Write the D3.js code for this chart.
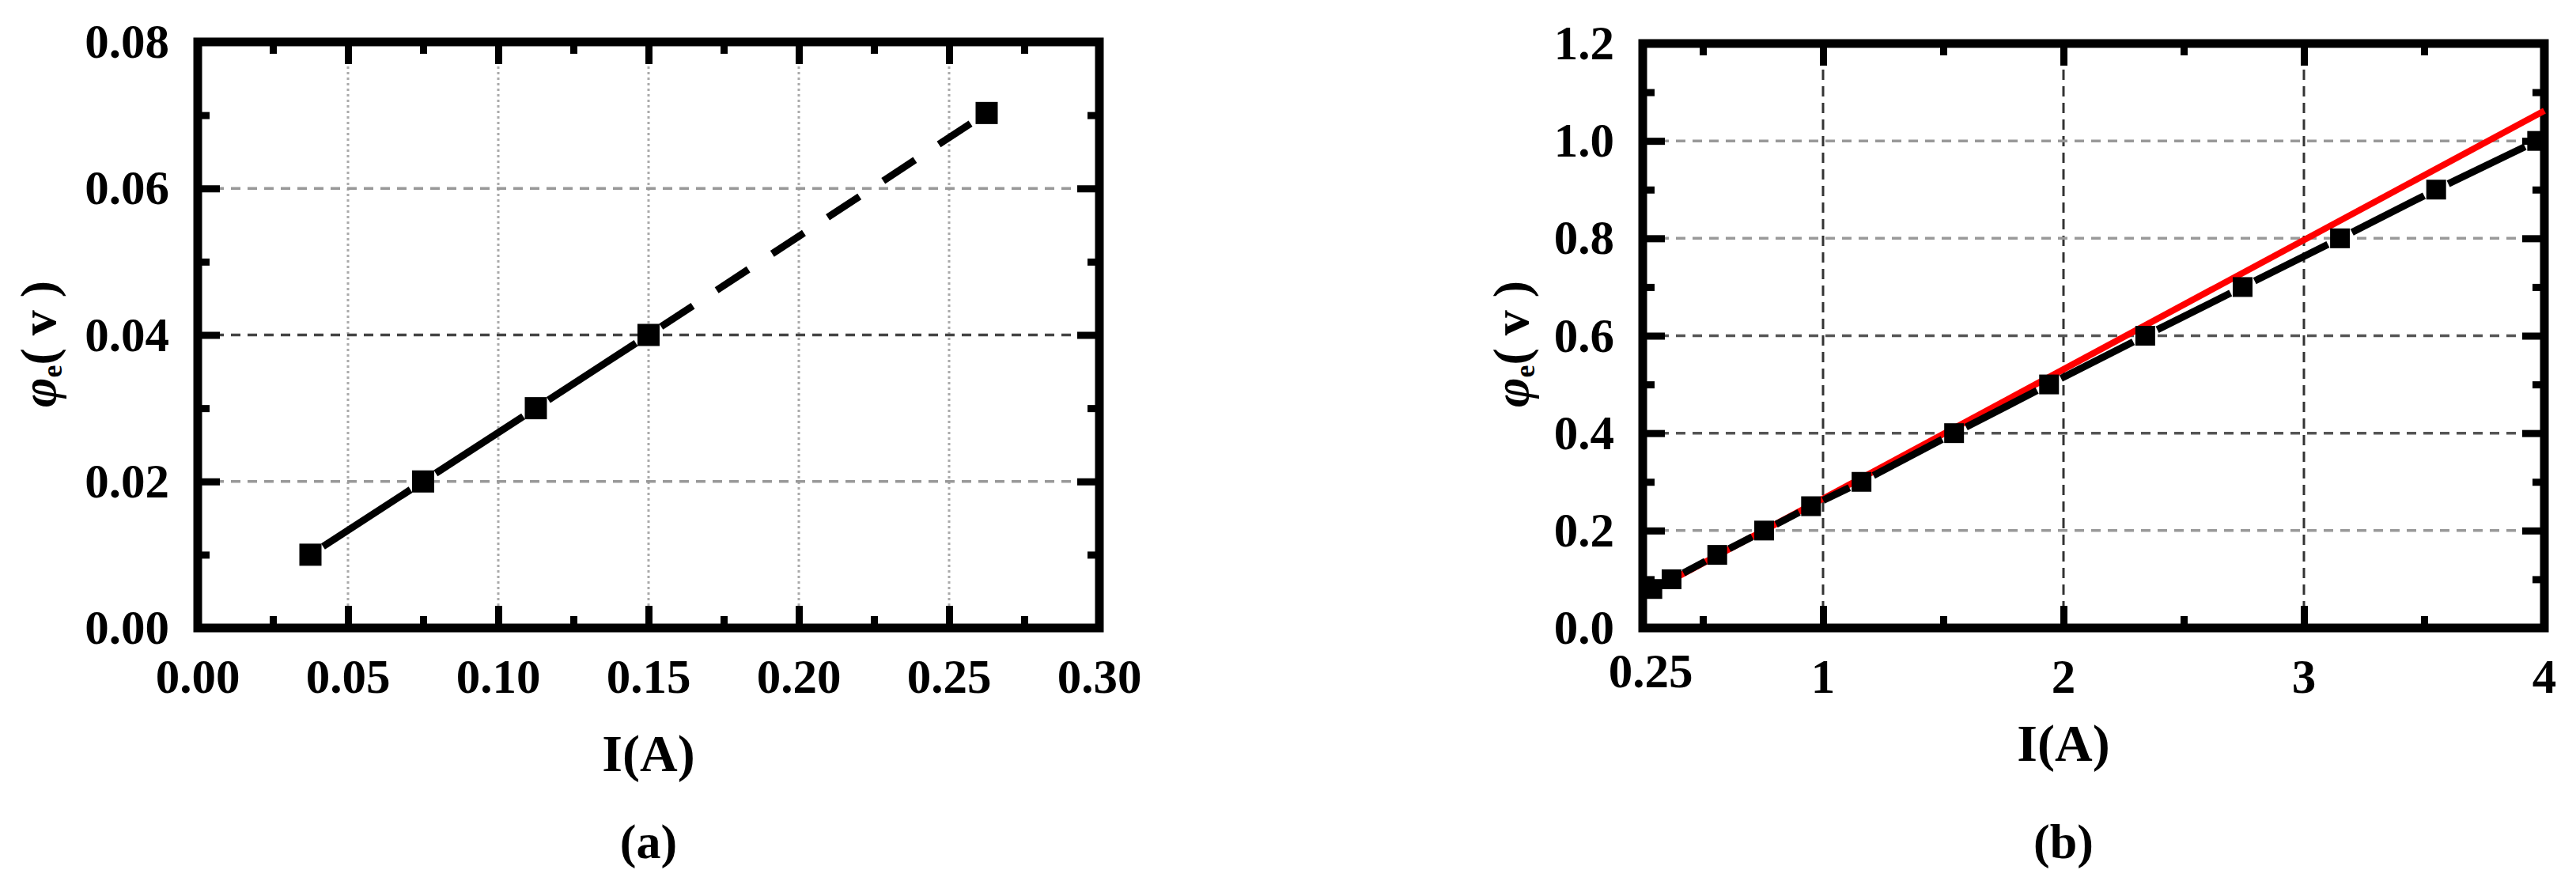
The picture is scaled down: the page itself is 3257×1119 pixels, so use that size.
<!DOCTYPE html>
<html>
<head>
<meta charset="utf-8">
<script src="https://cdn.jsdelivr.net/npm/d3@7/dist/d3.min.js"></script>
<style>
  html, body { margin: 0; padding: 0; background: #fff; }
  svg text { font-family: "Liberation Serif", "Times New Roman", serif; font-weight: bold; fill: #000; }
</style>
</head>
<body>
<svg id="chart" width="3257" height="1119"></svg>
<script>
// ---------------- data ----------------
// Panel (a)
const aCurrent = [0.0375, 0.075, 0.1125, 0.15, 0.2625];
const aPotential = [0.010, 0.020, 0.030, 0.040, 0.0703];
const aXTicks = [0, 0.05, 0.10, 0.15, 0.20, 0.25, 0.30];
const aXTickLabels = ["0.00", "0.05", "0.10", "0.15", "0.20", "0.25", "0.30"];
const aXMinor = [0.025, 0.075, 0.125, 0.175, 0.225, 0.275];
const aYTicks = [0, 0.02, 0.04, 0.06, 0.08];
const aYTickLabels = ["0.00", "0.02", "0.04", "0.06", "0.08"];
const aYMinor = [0.01, 0.03, 0.05, 0.07];
const aDashFrom = 0.15; // segment beyond this current is dashed (extrapolation)

// Panel (b)
const bCurrent = [0.29, 0.37, 0.56, 0.755, 0.95, 1.16, 1.545, 1.94, 2.34, 2.745, 3.15, 3.55, 3.97];
const bPotential = [0.08, 0.10, 0.15, 0.20, 0.25, 0.30, 0.40, 0.50, 0.60, 0.70, 0.80, 0.90, 1.00];
const bFitCurrent = [0.29, 4.0];
const bFitPotential = [0.077, 1.062];
const bXTicks = [0.25, 1, 2, 3, 4];
const bXTickLabels = ["0.25", "1", "2", "3", "4"];
const bXMinor = [0.5, 1.5, 2.5, 3.5];
const bYTicks = [0, 0.2, 0.4, 0.6, 0.8, 1.0, 1.2];
const bYTickLabels = ["0.0", "0.2", "0.4", "0.6", "0.8", "1.0", "1.2"];
const bYMinor = [0.1, 0.3, 0.5, 0.7, 0.9, 1.1];

const xTitle = "I(A)";

// ---------------- drawing ----------------
const svg = d3.select("#chart");

function panel(cfg) {
  const g = svg.append("g");
  const x = cfg.x, y = cfg.y;
  const [x0, x1] = x.range();
  const [y0, y1] = y.range(); // y0 bottom, y1 top

  // grid lines
  g.selectAll(".gx").data(cfg.gridX).join("line")
    .attr("x1", d => x(d)).attr("x2", d => x(d))
    .attr("y1", y0).attr("y2", y1)
    .attr("stroke", cfg.gridXColor).attr("stroke-width", 3)
    .attr("stroke-dasharray", cfg.gridXDash);
  g.selectAll(".gy").data(cfg.gridY).join("line")
    .attr("x1", x0).attr("x2", x1)
    .attr("y1", d => y(d)).attr("y2", d => y(d))
    .attr("stroke", d => cfg.gridYColor(d)).attr("stroke-width", 3.5)
    .attr("stroke-dasharray", "12,9");

  // ticks (inward on all four sides) via d3 axes
  const tickStyle = sel => {
    sel.select(".domain").remove();
    sel.selectAll(".tick line").attr("stroke", "#000").attr("stroke-width", 9);
    sel.selectAll(".tick text").remove();
  };
  const majLen = 28, minLen = 15;
  const xMaj = cfg.xTicks.filter(v => v > x.domain()[0] + 1e-9 && v < x.domain()[1] - 1e-9);
  const yMaj = cfg.yTicks.filter(v => v > y.domain()[0] + 1e-9 && v < y.domain()[1] - 1e-9);
  g.append("g").attr("transform", `translate(0,${y0})`)
    .call(d3.axisBottom(x).tickValues(xMaj).tickSize(-majLen)).call(tickStyle);
  g.append("g").attr("transform", `translate(0,${y0})`)
    .call(d3.axisBottom(x).tickValues(cfg.xMinor).tickSize(-minLen)).call(tickStyle);
  g.append("g").attr("transform", `translate(0,${y1})`)
    .call(d3.axisTop(x).tickValues(xMaj).tickSize(-majLen)).call(tickStyle);
  g.append("g").attr("transform", `translate(0,${y1})`)
    .call(d3.axisTop(x).tickValues(cfg.xMinor).tickSize(-minLen)).call(tickStyle);
  g.append("g").attr("transform", `translate(${x0},0)`)
    .call(d3.axisLeft(y).tickValues(yMaj).tickSize(-majLen)).call(tickStyle);
  g.append("g").attr("transform", `translate(${x0},0)`)
    .call(d3.axisLeft(y).tickValues(cfg.yMinor).tickSize(-minLen)).call(tickStyle);
  g.append("g").attr("transform", `translate(${x1},0)`)
    .call(d3.axisRight(y).tickValues(yMaj).tickSize(-majLen)).call(tickStyle);
  g.append("g").attr("transform", `translate(${x1},0)`)
    .call(d3.axisRight(y).tickValues(cfg.yMinor).tickSize(-minLen)).call(tickStyle);

  // frame
  g.append("rect").attr("x", x0).attr("y", y1)
    .attr("width", x1 - x0).attr("height", y0 - y1)
    .attr("fill", "none").attr("stroke", "#000").attr("stroke-width", 11);

  // tick labels
  g.selectAll(".xl").data(cfg.xTicks).join("text")
    .attr("x", (d, i) => x(d) + (cfg.xLabelShift ? cfg.xLabelShift(i)[0] : 0))
    .attr("y", (d, i) => y0 + 82 + (cfg.xLabelShift ? cfg.xLabelShift(i)[1] : 0))
    .attr("text-anchor", "middle").attr("font-size", 61)
    .text((d, i) => cfg.xTickLabels[i]);
  g.selectAll(".yl").data(cfg.yTicks).join("text")
    .attr("x", x0 - 36).attr("y", d => y(d) + 20)
    .attr("text-anchor", "end").attr("font-size", 61)
    .text((d, i) => cfg.yTickLabels[i]);

  // axis titles
  g.append("text").attr("x", cfg.xTitleX).attr("y", cfg.xTitleY)
    .attr("text-anchor", "middle").attr("font-size", 66).text(xTitle);
  g.append("text").attr("x", cfg.xTitleX).attr("y", 1085)
    .attr("text-anchor", "middle").attr("font-size", 62).text(cfg.tag);

  const yl = g.append("text")
    .attr("transform", `translate(${cfg.yTitleX},435) rotate(-90)`)
    .attr("text-anchor", "middle").attr("font-size", 64);
  yl.append("tspan").attr("font-style", "italic").text("φ");
  yl.append("tspan").attr("font-size", 36).attr("dy", 8).text("e");
  yl.append("tspan").attr("dy", -8).text("( v )");

  return g;
}

// segments between consecutive points with a gap at each marker
function gappedSegments(g, xs, ys, x, y, gap, styleFn) {
  for (let i = 0; i < xs.length - 1; i++) {
    const px0 = x(xs[i]), py0 = y(ys[i]), px1 = x(xs[i + 1]), py1 = y(ys[i + 1]);
    const L = Math.hypot(px1 - px0, py1 - py0);
    if (L <= 2 * gap) continue;
    const ux = (px1 - px0) / L, uy = (py1 - py0) / L;
    const s = styleFn(i);
    g.append("line")
      .attr("x1", px0 + ux * gap).attr("y1", py0 + uy * gap)
      .attr("x2", px1 - ux * gap).attr("y2", py1 - uy * gap)
      .attr("stroke", "#000").attr("stroke-width", s.w)
      .attr("stroke-dasharray", s.dash || null);
  }
}

// ---------- Panel (a) ----------
const xa = d3.scaleLinear().domain([0, 0.30]).range([250, 1390]);
const ya = d3.scaleLinear().domain([0, 0.08]).range([794, 53]);
const ga = panel({
  x: xa, y: ya,
  gridX: [0.05, 0.10, 0.15, 0.20, 0.25], gridXColor: "#aaa", gridXDash: "3,4",
  gridY: [0.02, 0.04, 0.06], gridYColor: d => (Math.abs(d - 0.04) < 1e-9 ? "#444" : "#999"),
  xTicks: aXTicks, xTickLabels: aXTickLabels, xMinor: aXMinor,
  yTicks: aYTicks, yTickLabels: aYTickLabels, yMinor: aYMinor,
  xTitleX: 820, xTitleY: 975, tag: "(a)", yTitleX: 70
});
gappedSegments(ga, aCurrent, aPotential, xa, ya, 19,
  i => aCurrent[i] >= aDashFrom ? { w: 9, dash: "48,36" } : { w: 9 });
ga.selectAll(".ma").data(aCurrent).join("rect")
  .attr("x", (d) => xa(d) - 14).attr("y", (d, i) => ya(aPotential[i]) - 14)
  .attr("width", 28).attr("height", 28).attr("fill", "#000");

// ---------- Panel (b) ----------
const xb = d3.scaleLinear().domain([0.25, 4]).range([2077, 3217]);
const yb = d3.scaleLinear().domain([0, 1.2]).range([794, 55]);
const gb = panel({
  x: xb, y: yb,
  gridX: [1, 2, 3], gridXColor: "#333", gridXDash: "13,8",
  gridY: [0.2, 0.4, 0.6, 0.8, 1.0], gridYColor: d => (d > 0.3 && d < 0.7 ? "#555" : "#999"),
  xTicks: bXTicks, xTickLabels: bXTickLabels, xMinor: bXMinor,
  yTicks: bYTicks, yTickLabels: bYTickLabels, yMinor: bYMinor,
  xLabelShift: i => (i === 0 ? [10, -7] : [0, 0]),
  xTitleX: 2609, xTitleY: 962, tag: "(b)", yTitleX: 1932
});
// red fitted line
gb.append("path")
  .datum(bFitCurrent.map((d, i) => [d, bFitPotential[i]]))
  .attr("d", d3.line().x(d => xb(d[0])).y(d => yb(d[1])))
  .attr("fill", "none").attr("stroke", "#ff0000").attr("stroke-width", 8);
gappedSegments(gb, bCurrent, bPotential, xb, yb, 17, () => ({ w: 9 }));
gb.selectAll(".mb").data(bCurrent).join("rect")
  .attr("x", d => xb(d) - 12.5).attr("y", (d, i) => yb(bPotential[i]) - 12.5)
  .attr("width", 25).attr("height", 25).attr("fill", "#000");
</script>
</body>
</html>
